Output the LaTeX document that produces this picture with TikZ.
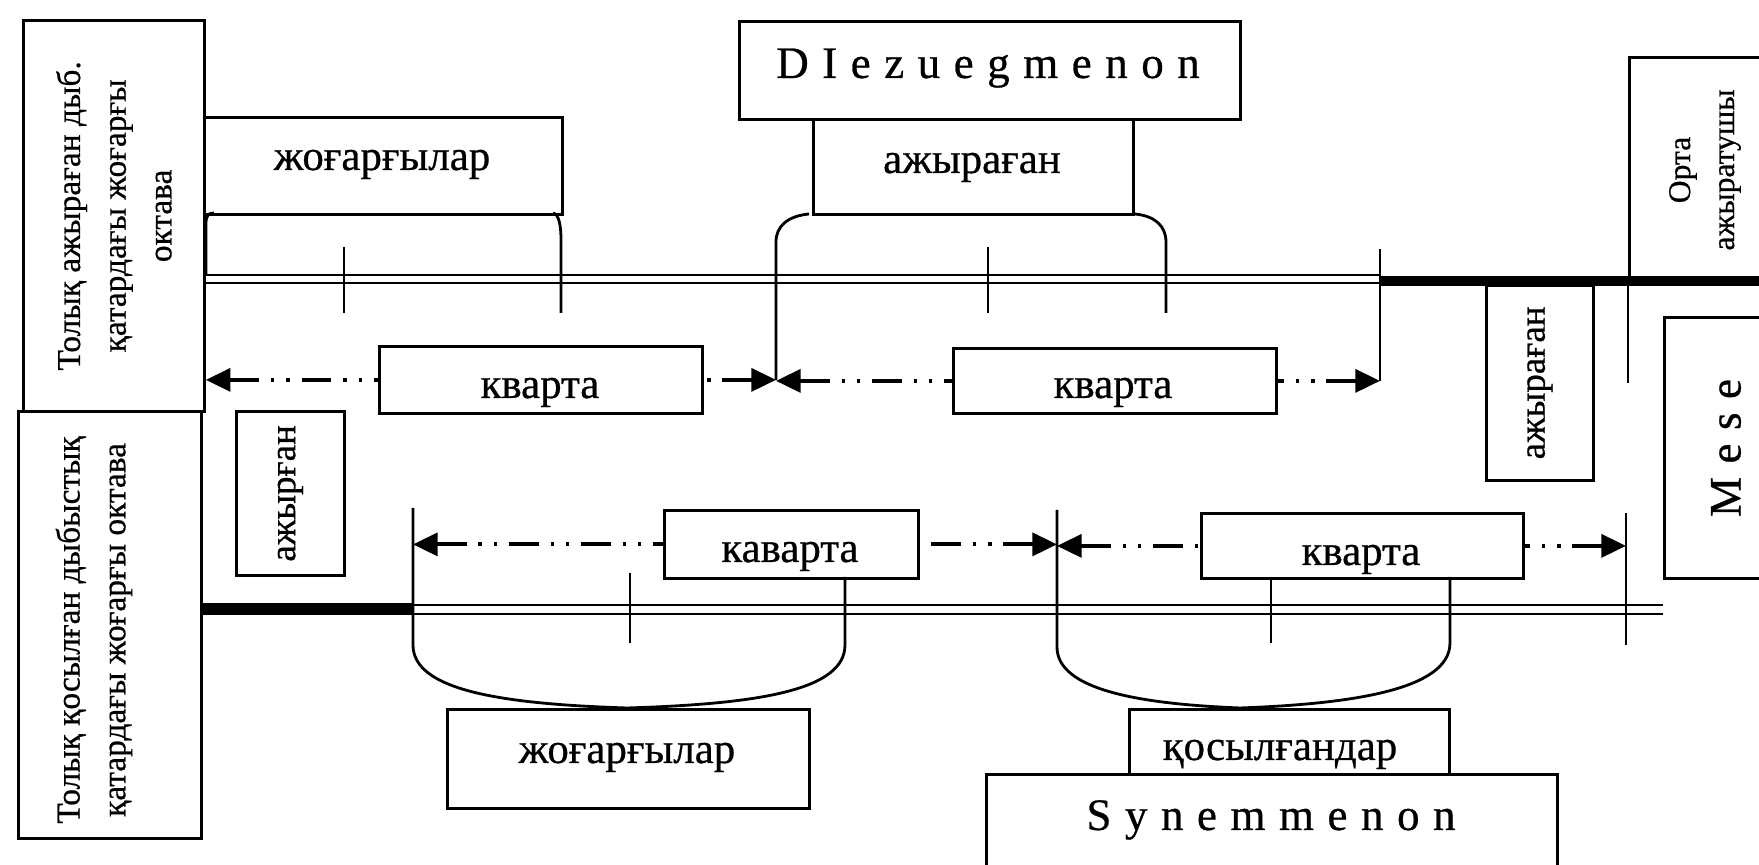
\documentclass[tikz,border=0pt]{standalone}
\usepackage{fontspec}
\setmainfont{Liberation Serif}[FakeBold=0.6]
\newfontfamily\spacedfont[LetterSpace=30,FakeBold=0.6]{Liberation Serif}
\usetikzlibrary{arrows.meta}

\tikzset{
  box/.style={draw, line width=0.8pt, inner sep=0pt, anchor=north west},
  lbl/.style={font=\fontsize{12.2}{14}\selectfont, inner sep=0pt, anchor=base},
  vlbl/.style={font=\fontsize{9.5}{13}\selectfont, rotate=90, align=center, inner sep=0pt},
  wlbl/.style={font=\fontsize{10.5}{13}\selectfont, rotate=90, inner sep=0pt},
  biglbl/.style={font=\fontsize{12.8}{15}\spacedfont, inner sep=0pt},
  rail/.style={line width=0.75pt},
  heavy/.style={line width=2.8pt},
  leg/.style={line width=0.8pt},
  dimline/.style={{Triangle[length=7pt,width=6.5pt]}-, line width=1.1pt,
    dash pattern=on 8.5pt off 3.4pt on 0.9pt off 3.4pt on 0.9pt off 3.4pt}
}

\begin{document}
\begin{tikzpicture}[x=0.01cm,y=-0.01cm]
  \useasboundingbox (0,0) rectangle (1759,865);
  \fill[white] (0,0) rectangle (1759,865);
  \clip (0,0) rectangle (1759,865);

  % boxes: name/left/top/width/height
  \foreach \nm/\bx/\by/\bw/\bh in {
    lu/22/19/181/391,
    ll/17/410/183/427,
    topzh/203/116/358/97,
    dz/738/20/501/98,
    topaj/812/118/320/95,
    orta/1628/56/250/226,
    kv1/378/345/323/67,
    kv2/952/347/323/65,
    ajr/1485/284/107/195,
    mese/1663/316/250/261,
    ajl/235/410/108/164,
    kav/663/509/254/68,
    kv3/1200/512/322/65,
    botzh/446/708/362/99,
    qos/1128/708/320/65,
    syn/985/773/571/200
  }{
    \node[box, minimum width=\bw*0.01cm, minimum height=\bh*0.01cm] (\nm) at (\bx,\by) {};
  }

  % labels
  \node[vlbl] (lut) at (lu.center) {Толық ажыраған дыб.\\қатардағы жоғарғы\\октава};
  \node[vlbl] (llt) at (94,630) {Толық қосылған дыбыстық\\қатардағы жоғарғы октава};
  \node[vlbl, font=\fontsize{9}{12.5}\selectfont] (ortat) at (1705,170) {Орта\\ажыратушы};
  \node[wlbl] (ajrt) at (ajr.center) {ажыраған};
  \node[wlbl] (ajlt) at (ajl.center) {ажырған};
  \node[biglbl, rotate=90] (meset) at (1726,448) {Mese};
  \node[biglbl, anchor=base] (dzt) at (988,78) {DIezuegmenon};
  \node[biglbl, anchor=base] (synt) at (1271,830) {Synemmenon};
  \node[lbl] (topzht) at (382,170) {жоғарғылар};
  \node[lbl] (topajt) at (972,173) {ажыраған};
  \node[lbl] (kv1t) at (540,398) {кварта};
  \node[lbl] (kv2t) at (1113,398) {кварта};
  \node[lbl] (kavt) at (790,562) {каварта};
  \node[lbl] (kv3t) at (1361,565) {кварта};
  \node[lbl] (botzht) at (627,763) {жоғарғылар};
  \node[lbl] (qost) at (1280,760) {қосылғандар};

  % rails
  \foreach \ry in {275,283} \draw[rail] (203,\ry) -- (1380,\ry);
  \draw[heavy] (1380,281) -- (1759,281);
  \foreach \ry in {605,614} \draw[rail] (413,\ry) -- (1663,\ry);
  \draw[line width=3.4pt] (200,609) -- (413,609);

  % ticks
  \foreach \tx/\ta/\tb in {344/247/313, 988/247/313, 630/573/643, 1271/577/643, 1626/513/645}
    \draw[leg] (\tx,\ta) -- (\tx,\tb);
  \coordinate (t3) at (1380,381);
  \coordinate (t5) at (1057,544);
  \coordinate (t6) at (1626,546);
  \coordinate (bl) at (776,380);
  \coordinate (b3l) at (413,543);
  \draw[leg] (1380,249) -- (t3);
  \draw[leg] (orta.south west) -- (1628,383);

  % brackets
  \draw[leg] (206,275) -- (206,224) .. controls (206,216) and (208,213) .. (214,213);
  \draw[leg] (553,213) .. controls (559,214) and (561,226) .. (561,240) -- (561,313);
  \draw[leg] (809,214) .. controls (788,216) and (776,226) .. (776,242) -- (bl);
  \draw[leg] (1135,214) .. controls (1155,216) and (1166,226) .. (1166,242) -- (1166,313);
  \draw[leg] (413,508) -- (413,645) .. controls (413,690) and (500,704) .. (627,708)
    .. controls (760,704) and (845,690) .. (845,645) -- (845,577);
  \draw[leg] (1057,510) -- (1057,647) .. controls (1057,690) and (1140,704) .. (1240,708)
    .. controls (1350,704) and (1450,690) .. (1450,643) -- (1450,577);

  % quarta arrows
  \draw[dimline] (kv1.west -| lu.east) -- (kv1.west);
  \draw[dimline] (kv1.east -| bl) -- (kv1.east);
  \draw[dimline] (kv2.west -| bl) -- (kv2.west);
  \draw[dimline] (kv2.east -| t3) -- (kv2.east);
  \draw[dimline] (kav.west -| b3l) -- (kav.west);
  \draw[dimline] (kav.east -| t5) -- (kav.east);
  \draw[dimline] (kv3.west -| t5) -- (kv3.west);
  \draw[dimline] (kv3.east -| t6) -- (kv3.east);
\end{tikzpicture}
\end{document}
